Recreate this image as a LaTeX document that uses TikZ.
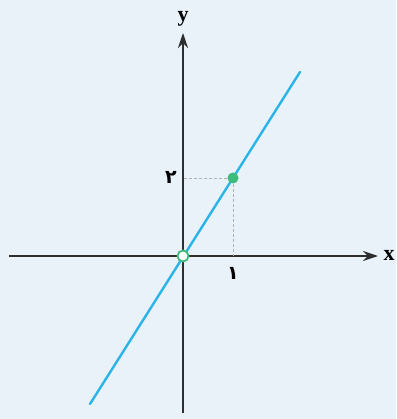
\documentclass[tikz,border=0pt]{standalone}
\usepackage{fontspec}
\setmainfont{Liberation Serif}
\newfontfamily\arabicfont[Script=Arabic]{DejaVu Sans}
\TeXXeTstate=1
\usetikzlibrary{arrows.meta}
\definecolor{bgc}{HTML}{E9F1F9}
\definecolor{linec}{HTML}{2AB4E8}
\definecolor{ptc}{HTML}{3DBB7A}
\definecolor{axc}{HTML}{2E2E2E}
\tikzset{
  axis/.style={draw=axc, line width=1.9pt, -{Stealth[length=15pt,width=10pt]}},
  graph/.style={draw=linec, line width=2.4pt},
  guide/.style={draw=gray!60, line width=0.8pt, dash pattern=on 3pt off 2pt},
  lbl/.style={font=\bfseries\fontsize{22}{22}\selectfont, inner sep=0pt},
  num/.style={font=\arabicfont\bfseries\fontsize{19}{19}\selectfont, inner sep=0pt}
}
\begin{document}
\begin{tikzpicture}[x=1pt,y=-1pt]
\fill[bgc] (0,0) rectangle (396,419);
\useasboundingbox (0,0) rectangle (396,419);
\coordinate (o) at (183,256);
\coordinate (xs) at (9,256);
\coordinate (xe) at (378,256);
\coordinate (ys) at (183,413);
\coordinate (ye) at (183,33);
\coordinate (ls) at (90,404);
\coordinate (le) at (300,72);
\coordinate (py) at (183,178);
\coordinate (px) at (233,256);
\draw[graph, line cap=round] (ls) -- (le);
\draw[axis] (xs) -- (xe);
\draw[axis] (ys) -- (ye);
\node[circle, fill=ptc, inner sep=0pt, minimum size=11pt] (p) at (233,178) {};
\draw[guide] (p) -- (py);
\draw[guide] (p) -- (px);
\node[circle, draw=ptc, fill=white, line width=1.8pt, inner sep=0pt, minimum size=11pt] (orig) at (o) {};
\node[lbl] (xl) at (389,255) {x};
\node[lbl] (yl) at (183,19) {y};
\node[num, anchor=east] (n2) at (177,177) {\beginR ۲\endR};
\node[num] (n1) at (233,273) {\beginR ۱\endR};
\end{tikzpicture}
\end{document}
